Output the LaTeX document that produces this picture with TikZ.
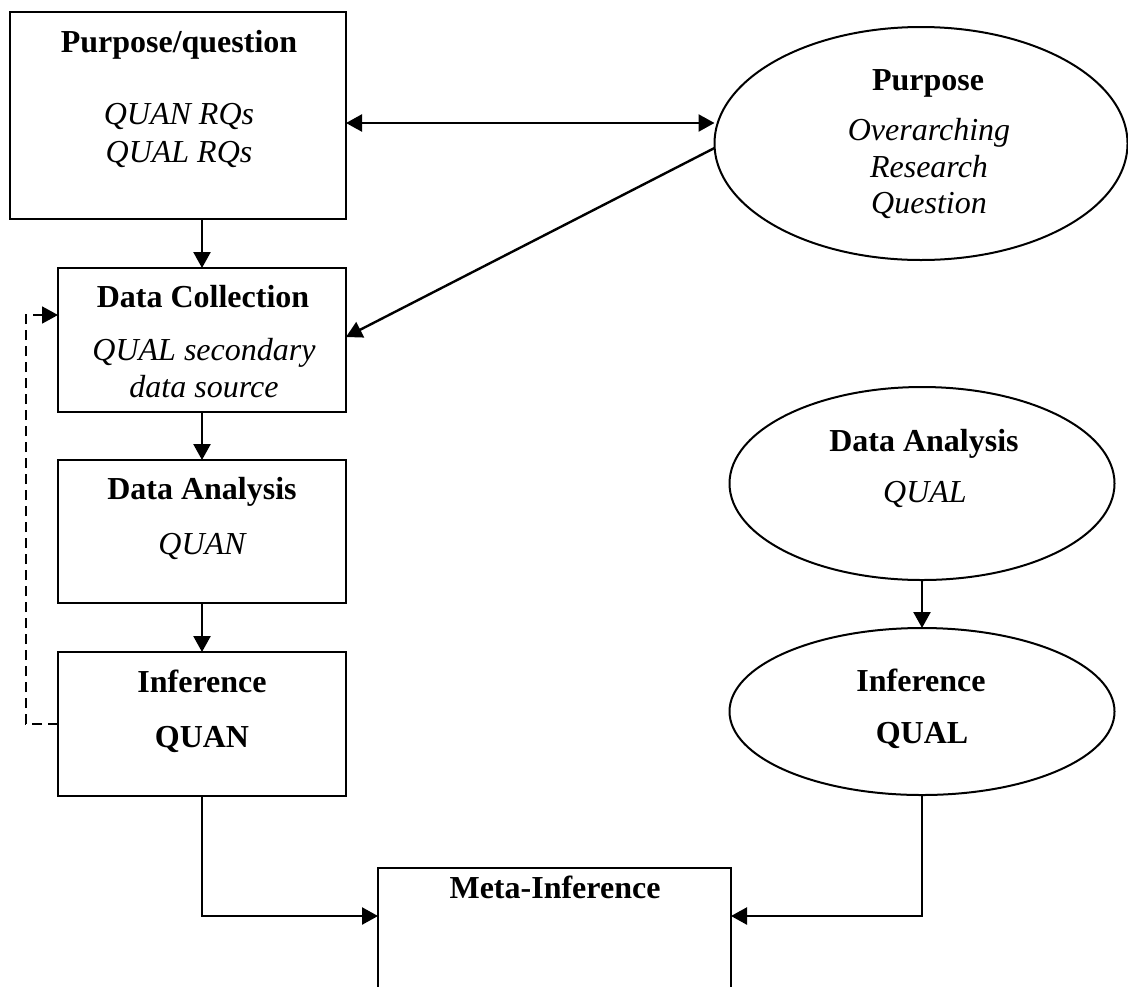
\documentclass[tikz,border=0pt]{standalone}
\usepackage{fontspec}
\setmainfont{Liberation Serif}
\usetikzlibrary{arrows.meta,shapes.geometric}
\begin{document}
\begin{tikzpicture}[x=0.5pt,y=-0.5pt,
  box/.style={draw,line width=1.2pt,rectangle,inner sep=0pt,outer sep=0pt},
  oval/.style={draw,line width=1pt,ellipse,inner sep=0pt,outer sep=0pt},
  bl/.style={anchor=base,inner sep=0pt,font=\fontsize{16}{19}\selectfont\bfseries},
  il/.style={anchor=base,inner sep=0pt,font=\fontsize{16}{19}\selectfont\itshape},
  tip/.tip={Triangle[length=8pt,width=8.5pt]},
  conn/.style={line width=1.2pt,-tip},
  ]
\useasboundingbox (0,0) rectangle (1128,986);
\clip (0,0) rectangle (1128,986);
% shapes
\node[box,minimum width=168pt,minimum height=103.5pt] (pq) at (178,115.5) {};
\node[box,minimum width=144pt,minimum height=72pt] (dc) at (202,340) {};
\node[box,minimum width=144pt,minimum height=71.5pt] (da) at (202,531.5) {};
\node[box,minimum width=144pt,minimum height=72pt] (inf) at (202,724) {};
\node[box,minimum width=176.5pt,minimum height=116pt] (meta) at (554.5,984) {};
\node[oval,minimum width=206.5pt,minimum height=116.5pt] (po) at (921,143.5) {};
\node[oval,minimum width=192.5pt,minimum height=96.5pt] (aq) at (922,483.5) {};
\node[oval,minimum width=192.5pt,minimum height=83.5pt] (iq) at (922,711.5) {};
% texts
\node[bl] (t1) at (179,52) {Purpose/question};
\node[il] (t2) at (179,124) {QUAN RQs};
\node[il] (t3) at (179,162) {QUAL RQs};
\node[bl] (t4) at (203,307) {Data Collection};
\node[il] (t5) at (204,360) {QUAL secondary};
\node[il] (t6) at (204,397) {data source};
\node[bl] (t7) at (202,499) {Data Analysis};
\node[il] (t8) at (202,554) {QUAN};
\node[bl] (t9) at (202,692) {Inference};
\node[bl] (t10) at (202,747) {QUAN};
\node[bl] (t11) at (928,90) {Purpose};
\node[il] (t12) at (929,140) {Overarching};
\node[il] (t13) at (929,177) {Research};
\node[il] (t14) at (929,213) {Question};
\node[bl] (t15) at (924,451) {Data Analysis};
\node[il] (t16) at (925,502) {QUAL};
\node[bl] (t17) at (921,691) {Inference};
\node[bl] (t18) at (922,743) {QUAL};
\node[bl] (t19) at (555,898) {Meta-Inference};
% connectors
\draw[conn] (dc.north |- pq.south) -- (dc.north);
\draw[conn] (dc.south) -- (da.north);
\draw[conn] (da.south) -- (inf.north);
\path ([yshift=-3.75pt]pq.east) coordinate (a1);
\draw[line width=1.2pt,tip-tip] (a1) -- (a1 -| po.west);
\draw[conn] ([yshift=-2.25pt]po.west) -- ([yshift=1.5pt]dc.east);
\draw[line width=0.9pt,dash pattern=on 5pt off 3pt,-tip] (inf.west) -- ++(-32,0) |- ([yshift=12.5pt]dc.west);
\draw[conn] (aq.south) -- (iq.north);
\draw[conn] (inf.south) |- ([yshift=34pt]meta.west);
\draw[conn] (iq.south) |- ([yshift=34pt]meta.east);
\end{tikzpicture}
\end{document}
